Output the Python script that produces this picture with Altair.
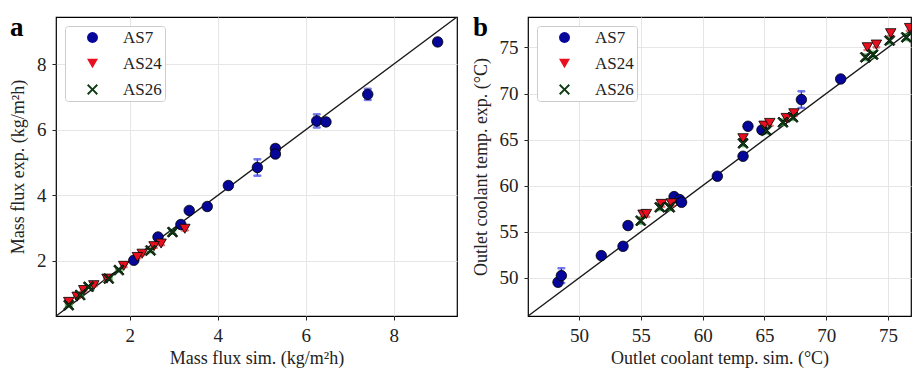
import altair as alt
import pandas as pd

SERIES = ["AS7", "AS24", "AS26"]
FILL_COLORS = ["#06069a", "#e8101e", "#0d3b12"]
ERR_COLORS = ["#3434f0", "#f03030", "#22a022"]
XPATH = "M-1,-0.75L-0.75,-1L0,-0.25L0.75,-1L1,-0.75L0.25,0L1,0.75L0.75,1L0,0.25L-0.75,1L-1,0.75L-0.25,0Z"
SHAPES = ["circle", "triangle-down", XPATH]

# ---------------- panel a : mass flux ----------------
a_as7_sim = [9.00, 7.41, 6.25, 6.46, 5.31, 5.31, 4.90, 4.24, 3.76, 3.35, 3.16, 2.64, 2.09]
a_as7_exp = [8.68, 7.08, 6.27, 6.24, 5.43, 5.26, 4.85, 4.30, 3.66, 3.54, 3.11, 2.73, 2.02]
a_as7_err = [0.10, 0.17, 0.20, 0.10, 0.10, 0.08, 0.25, 0.08, 0.07, 0.06, 0.05, 0.05, 0.04]

a_as24_sim = [3.25, 2.71, 2.55, 2.28, 2.17, 1.86, 1.48, 1.18, 0.95, 0.80, 0.61]
a_as24_exp = [2.98, 2.53, 2.45, 2.22, 2.12, 1.85, 1.46, 1.26, 1.11, 0.91, 0.75]
a_as24_err = [0.05, 0.05, 0.05, 0.04, 0.04, 0.04, 0.03, 0.03, 0.03, 0.03, 0.03]

a_as26_sim = [2.97, 2.47, 1.75, 1.52, 1.06, 0.87, 0.61]
a_as26_exp = [2.88, 2.32, 1.72, 1.46, 1.21, 0.96, 0.65]
a_as26_err = [0.05, 0.05, 0.04, 0.03, 0.03, 0.03, 0.03]

a_domain = [0.32, 9.44]
a_ticks = [2, 4, 6, 8]

# ---------------- panel b : outlet coolant temperature ----------------
b_as7_sim = [48.30, 48.57, 51.80, 53.56, 53.96, 57.69, 58.14, 58.30, 61.19, 63.27, 63.67, 64.80, 67.99, 71.17]
b_as7_exp = [49.53, 50.25, 52.42, 53.43, 55.68, 58.82, 58.50, 58.20, 61.03, 63.20, 66.45, 66.05, 69.34, 71.58]
b_as7_err = [0.35, 0.80, 0.30, 0.35, 0.30, 0.30, 0.30, 0.30, 0.30, 0.30, 0.30, 0.30, 0.90, 0.30]

b_as24_sim = [55.18, 55.45, 56.66, 57.47, 63.27, 64.97, 65.43, 66.77, 67.39, 73.33, 74.06, 75.22, 76.75]
b_as24_exp = [56.87, 56.94, 58.03, 58.10, 65.15, 66.52, 66.81, 67.35, 67.86, 75.02, 75.31, 76.54, 77.11]
b_as24_err = [0.30] * 13

b_as26_sim = [54.99, 56.53, 57.34, 63.27, 65.16, 66.50, 67.31, 73.17, 73.79, 75.13, 76.48]
b_as26_exp = [56.20, 57.66, 57.66, 64.60, 65.98, 66.88, 67.43, 73.93, 74.22, 75.74, 76.10]
b_as26_err = [0.30] * 11

b_xdomain = [45.87, 76.86]
b_ydomain = [45.87, 78.30]
b_ticks = [50, 55, 60, 65, 70, 75]

FONT = "Liberation Serif"
ERR_KEYS = ["err " + s for s in SERIES]


def frame(groups):
    rows = []
    for k, (name, sim, exp, err) in enumerate(groups):
        for s, e, r in zip(sim, exp, err):
            rows.append({"series": name, "grp": "err " + name, "ord": k, "sim": s, "exp": e,
                         "lo": e - r, "hi": e + r})
    return pd.DataFrame(rows)


def panel(df, xdom, ydom, ticks, xtitle, ytitle, w, h, label, label_dx):
    xs = alt.Scale(domain=xdom, nice=False, zero=False)
    ys = alt.Scale(domain=ydom, nice=False, zero=False)
    xax = alt.Axis(values=ticks, title=xtitle, grid=True)
    yax = alt.Axis(values=ticks, title=ytitle, grid=True)
    lo = min(xdom[0], ydom[0])
    hi = max(xdom[1], ydom[1])
    diag = alt.Chart(pd.DataFrame({"v": [lo, hi]})).mark_line(
        color="#1a1a1a", strokeWidth=1.4, clip=True
    ).encode(x=alt.X("v:Q", scale=xs, axis=xax), y=alt.Y("v:Q", scale=ys, axis=yax))

    base = alt.Chart(df)
    stroke = alt.Stroke("grp:N", scale=alt.Scale(domain=ERR_KEYS, range=ERR_COLORS), legend=None)
    bars = base.mark_rule(strokeWidth=1.4, clip=True).encode(
        x=alt.X("sim:Q", scale=xs), y=alt.Y("lo:Q", scale=ys), y2="hi:Q", stroke=stroke
    )
    cap_lo = base.mark_tick(orient="horizontal", size=7, thickness=1.4, clip=True).encode(
        x=alt.X("sim:Q", scale=xs), y=alt.Y("lo:Q", scale=ys), stroke=stroke
    )
    cap_hi = base.mark_tick(orient="horizontal", size=7, thickness=1.4, clip=True).encode(
        x=alt.X("sim:Q", scale=xs), y=alt.Y("hi:Q", scale=ys), stroke=stroke
    )
    leg = alt.Legend(title=None, symbolStrokeColor="black", symbolStrokeWidth=0.8)
    pts = base.mark_point(filled=True, stroke="black", strokeWidth=0.8, size=110, opacity=1, clip=True).encode(
        x=alt.X("sim:Q", scale=xs),
        y=alt.Y("exp:Q", scale=ys),
        fill=alt.Fill("series:N", scale=alt.Scale(domain=SERIES, range=FILL_COLORS), legend=leg),
        shape=alt.Shape("series:N", scale=alt.Scale(domain=SERIES, range=SHAPES), legend=leg),
        order=alt.Order("ord:Q"),
    )
    lab = alt.Chart(pd.DataFrame({"t": [label]})).mark_text(
        font=FONT, fontSize=27, fontWeight="bold", align="left", baseline="alphabetic"
    ).encode(text="t:N", x=alt.value(label_dx), y=alt.value(19))
    return alt.layer(diag, bars, cap_lo, cap_hi, pts, lab).properties(width=w, height=h)


df_a = frame([("AS7", a_as7_sim, a_as7_exp, a_as7_err),
              ("AS24", a_as24_sim, a_as24_exp, a_as24_err),
              ("AS26", a_as26_sim, a_as26_exp, a_as26_err)])
df_b = frame([("AS7", b_as7_sim, b_as7_exp, b_as7_err),
              ("AS24", b_as24_sim, b_as24_exp, b_as24_err),
              ("AS26", b_as26_sim, b_as26_exp, b_as26_err)])

pa = panel(df_a, a_domain, a_domain, a_ticks, "Mass flux sim.  (kg/m²h)", "Mass flux exp.  (kg/m²h)",
           401, 299, "a", -46)
pb = panel(df_b, b_xdomain, b_ydomain, b_ticks, "Outlet coolant temp. sim.  (°C)",
           "Outlet coolant temp. exp.  (°C)", 383, 299, "b", -55)

chart = alt.hconcat(pa, pb, spacing=13).resolve_scale(
    fill="independent", shape="independent", stroke="independent"
).resolve_legend(fill="independent", shape="independent").properties(
    padding={"top": 5, "left": 0, "right": 0, "bottom": 0}
).configure_view(stroke="black", strokeWidth=1.2).configure_axis(
    labelFont=FONT, titleFont=FONT, labelFontSize=19, titleFontSize=18, titleFontWeight="normal",
    labelColor="#222", titleColor="#222", tickColor="#222", tickSize=4, domain=False,
    gridColor="#e3e3e3", gridWidth=0.9, labelPadding=6,
).configure_axisX(titlePadding=4).configure_axisY(titlePadding=9).configure_legend(
    orient="top-left", offset=9, padding=3, fillColor="white", strokeColor="#cccccc",
    cornerRadius=3, labelFont=FONT, labelFontSize=17, labelColor="#222", symbolSize=120,
    symbolStrokeColor="black", symbolStrokeWidth=0.8, symbolOpacity=1, rowPadding=8,
    labelOffset=22, symbolOffset=16,
)

chart.save("out.html", embed_options={"renderer": "svg", "actions": False})
